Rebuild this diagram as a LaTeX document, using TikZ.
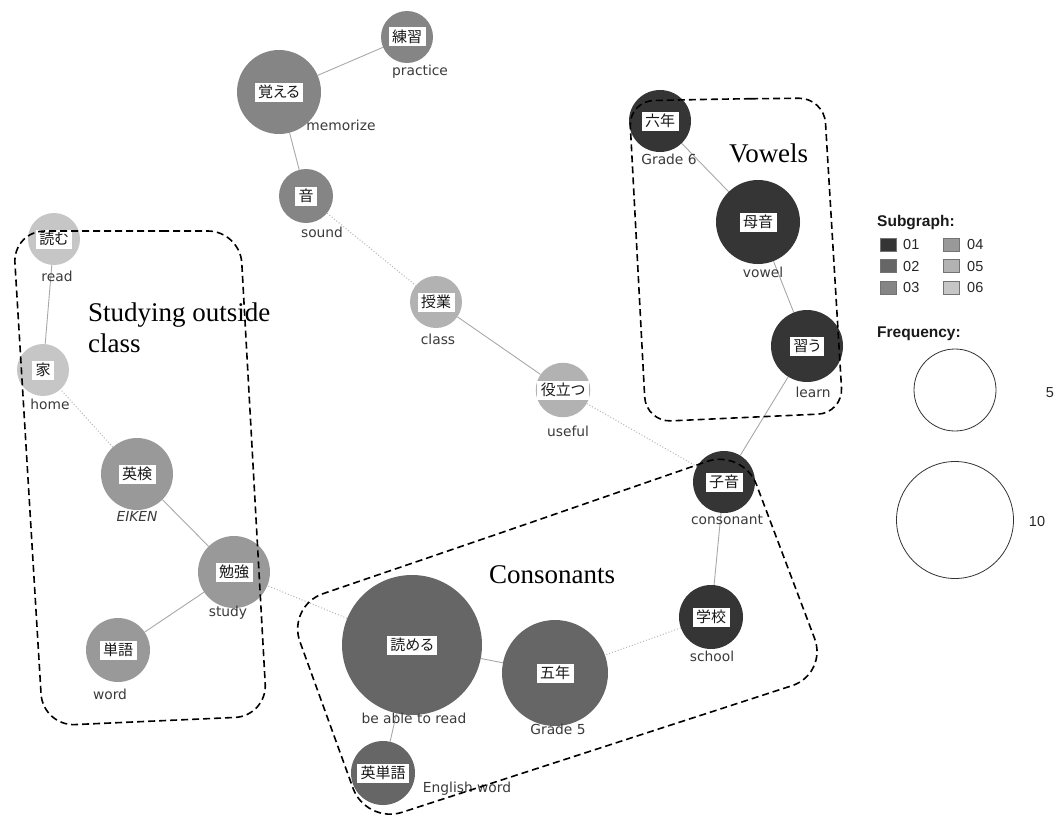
\documentclass[tikz,border=0pt]{standalone}
\usepackage{fontspec}
\setmainfont{Liberation Serif}
\newfontfamily\jpfont[RawFeature=+palt]{Noto Sans CJK JP}
\newfontfamily\labfont{DejaVu Sans}
\newfontfamily\legfont{Liberation Sans}
\usetikzlibrary{backgrounds}
\definecolor{cA}{HTML}{353535}
\definecolor{cB}{HTML}{666666}
\definecolor{cC}{HTML}{858585}
\definecolor{cD}{HTML}{999999}
\definecolor{cE}{HTML}{B2B2B2}
\definecolor{cF}{HTML}{C6C6C6}
\definecolor{edgegray}{HTML}{A8A8A8}
\definecolor{dotgray}{HTML}{B4B4B4}
\definecolor{labgray}{HTML}{3A3A3A}
\newcommand\jbox[1]{{\setlength\fboxsep{1.5pt}\colorbox{white}{\hspace{2pt}\jpfont\fontsize{15}{15}\selectfont\rule[-2.5pt]{0pt}{16pt}#1\hspace{2pt}}}}
\tikzset{
  kw/.style={circle, inner sep=0pt, minimum size=#1, text=black!90},
  lab/.style={font=\labfont\fontsize{13.8}{14}\selectfont, text=labgray, anchor=mid, inner sep=0pt},
  se/.style={draw=edgegray, line width=0.9pt},
  de/.style={draw=dotgray, line width=1pt, dash pattern=on 1pt off 2pt},
  grp/.style={draw=black, line width=1.6pt, dash pattern=on 7pt off 4pt},
  ttl/.style={font=\fontsize{27}{31}\selectfont, inner sep=0pt},
  sq/.style={draw=black!55, line width=0.5pt, minimum width=16pt, minimum height=13pt, inner sep=0pt},
  legnum/.style={font=\legfont\fontsize{14.5}{15}\selectfont, text=black!85, anchor=base west, inner sep=0pt},
  legttl/.style={font=\legfont\bfseries\fontsize{15.5}{16}\selectfont, text=black!90, anchor=base west, inner sep=0pt},
  freq/.style={circle, draw=black!80, line width=0.8pt, inner sep=0pt, minimum size=#1},
}
\begin{document}
\begin{tikzpicture}[x=1pt, y=-1pt]
\useasboundingbox (0,0) rectangle (1056,816);

% --- word nodes ---
\node[kw=52pt, fill=cC] (renshu) at (407,37) {\jbox{練習}};
\node[kw=84pt, fill=cC] (oboeru) at (279,92) {\jbox{覚える}};
\node[kw=54pt, fill=cC] (oto) at (306,196) {\jbox{音}};
\node[kw=52pt, fill=cE] (jugyou) at (436,302) {\jbox{授業}};
\node[kw=52pt, fill=cE] (yakudatsu) at (563,390) {\jbox{役立つ}};
\node[kw=62pt, fill=cA] (shiin) at (724,482) {\jbox{子音}};
\node[kw=62pt, fill=cA] (rokunen) at (660,121) {\jbox{六年}};
\node[kw=84pt, fill=cA] (boin) at (758,222) {\jbox{母音}};
\node[kw=72pt, fill=cA] (narau) at (807,346) {\jbox{習う}};
\node[kw=64pt, fill=cA] (gakkou) at (711,617) {\jbox{学校}};
\node[kw=106pt, fill=cB] (gonen) at (555,673) {\jbox{五年}};
\node[kw=140pt, fill=cB] (yomeru) at (412,645) {\jbox{読める}};
\node[kw=64pt, fill=cB] (eitango) at (383,773) {\jbox{英単語}};
\node[kw=72pt, fill=cD] (benkyou) at (234,572) {\jbox{勉強}};
\node[kw=72pt, fill=cD] (eiken) at (137,474) {\jbox{英検}};
\node[kw=64pt, fill=cD] (tango) at (118,650) {\jbox{単語}};
\node[kw=52pt, fill=cF] (yomu) at (54,239) {\jbox{読む}};
\node[kw=52pt, fill=cF] (ie) at (43,370) {\jbox{家}};

% --- English glosses ---
\node[lab] (l-renshu) at (420,73) {practice};
\node[lab] (l-oboeru) at (341,128) {memorize};
\node[lab] (l-oto) at (322,235) {sound};
\node[lab] (l-jugyou) at (438,342) {class};
\node[lab] (l-yakudatsu) at (568,434) {useful};
\node[lab] (l-shiin) at (727,522) {consonant};
\node[lab] (l-rokunen) at (669,162) {Grade 6};
\node[lab] (l-boin) at (763,275) {vowel};
\node[lab] (l-narau) at (813,395) {learn};
\node[lab] (l-gakkou) at (712,659) {school};
\node[lab] (l-gonen) at (558,732) {Grade 5};
\node[lab] (l-yomeru) at (414,721) {be able to read};
\node[lab] (l-eitango) at (467,790) {English word};
\node[lab] (l-benkyou) at (228,614) {study};
\node[lab, font=\labfont\itshape\fontsize{13.8}{14}\selectfont] (l-eiken) at (137,519) {EIKEN};
\node[lab] (l-tango) at (110,697) {word};
\node[lab] (l-yomu) at (57,279) {read};
\node[lab] (l-ie) at (50,407) {home};

% --- edges ---
\begin{pgfonlayer}{background}
\draw[se] (renshu) -- (oboeru);
\draw[se] (oboeru) -- (oto);
\draw[de] (oto) -- (jugyou);
\draw[se] (jugyou) -- (yakudatsu);
\draw[de] (yakudatsu) -- (shiin);
\draw[se] (rokunen) -- (boin);
\draw[se] (boin) -- (narau);
\draw[se] (narau) -- (shiin);
\draw[se] (shiin) -- (gakkou);
\draw[de] (gakkou) -- (gonen);
\draw[se] (gonen) -- (yomeru);
\draw[se] (yomeru) -- (eitango);
\draw[de] (yomeru) -- (benkyou);
\draw[se] (benkyou) -- (eiken);
\draw[se] (benkyou) -- (tango);
\draw[de] (eiken) -- (ie);
\draw[se] (ie) -- (yomu);
\end{pgfonlayer}

% --- group outlines and titles ---
\draw[grp, rounded corners=32pt] (130,231) -- (240,231) -- (267,716) -- (43,726) -- (13,231) -- cycle;
\draw[grp, rounded corners=25pt] (726,99) -- (824,98) -- (843,413) -- (646,422) -- (629,101) -- cycle;
\draw[grp, rounded corners=38pt] (515,528) -- (743,449) -- (828,674) -- (366,824) -- (287,606) -- cycle;
\node[ttl, anchor=north west, align=left] (t-study) at (88,302.5) {Studying outside\\class};
\node[ttl, anchor=base west] (t-vowel) at (729,162) {Vowels};
\node[ttl, anchor=base west] (t-cons) at (489,583) {Consonants};

% --- legend ---
\node[legttl] (subg) at (877,226) {Subgraph:};
\node[sq, fill=cA] (s1) at (888.5,244.5) {};
\node[sq, fill=cB] (s2) at (888.5,266) {};
\node[sq, fill=cC] (s3) at (888.5,287.5) {};
\node[sq, fill=cD] (s4) at (951.5,244.5) {};
\node[sq, fill=cE] (s5) at (951.5,266) {};
\node[sq, fill=cF] (s6) at (951.5,287.5) {};
\node[legnum] (n1) at (903,249.7) {01};
\node[legnum] (n2) at (903,271.2) {02};
\node[legnum] (n3) at (903,292.7) {03};
\node[legnum] (n4) at (967,249.7) {04};
\node[legnum] (n5) at (967,271.2) {05};
\node[legnum] (n6) at (967,292.7) {06};
\node[legttl] (freqt) at (877,337) {Frequency:};
\node[freq=82pt] (f5) at (955,390) {};
\node[freq=117pt] (f10) at (955,520) {};
\node[legnum, anchor=center] (f5t) at (1050,393) {5};
\node[legnum, anchor=center] (f10t) at (1037,522) {10};
\end{tikzpicture}
\end{document}
